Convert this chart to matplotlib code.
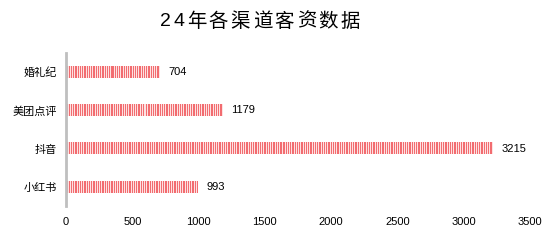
import matplotlib
matplotlib.use("Agg")
import matplotlib.pyplot as plt
from matplotlib.colors import to_rgba
import numpy as np

categories = ["婚礼纪", "美团点评", "抖音", "小红书"]
values = [704, 1179, 3215, 993]
xticks = [0, 500, 1000, 1500, 2000, 2500, 3000, 3500]
title = "24年各渠道客资数据"

plt.rcParams['font.family'] = ['Liberation Sans', 'Noto Sans CJK SC', 'DejaVu Sans']

fig = plt.figure(figsize=(5.49, 2.40), dpi=100)
ax = fig.add_axes([66/549, 1-206/240, (530-66)/549, (206-52.75)/240])

y = list(range(len(categories)))
bar_h = 0.31
light = '#fde2e2'
red = '#f26c70'
bars = ax.barh(y, values, height=bar_h, color=light, linewidth=0, zorder=2)
ax.set_ylim(len(categories)-0.5, -0.5)
ax.set_xlim(0, 3500)
ax.set_yticks(y)
ax.set_yticklabels(categories, fontsize=8)
ax.set_xticks(xticks)
ax.set_xticklabels([str(t) for t in xticks], fontsize=8)
ax.tick_params(axis='both', length=0)
ax.tick_params(axis='x', pad=8)
ax.tick_params(axis='y', pad=6.5)
for s in ['top', 'right', 'bottom']:
    ax.spines[s].set_visible(False)
ax.spines['left'].set_color('#bfbfbf')
ax.spines['left'].set_linewidth(2)
ax.spines['left'].set_zorder(5)

for yi, v in zip(y, values):
    ax.annotate(str(v), (v, yi), xytext=(6.5, 0), textcoords='offset points',
                va='center', ha='left', fontsize=8)

fig.canvas.draw()
renderer = fig.canvas.get_renderer()

# vertical stripe texture inside each bar
period = 2.25
cr, cl = np.array(to_rgba(red)), np.array(to_rgba(light))
for b in bars:
    x0, x1 = b.get_x(), b.get_x() + b.get_width()
    y0, y1 = b.get_y(), b.get_y() + b.get_height()
    px0 = ax.transData.transform((x0, 0))[0]
    px1 = ax.transData.transform((x1, 0))[0]
    n = max(1, int(round(px1 - px0)))
    cols = np.arange(n)
    on = ((cols / period) % 1.0) < 0.5
    tex = np.where(on[:, None], cr, cl)[None, :, :]
    ax.imshow(tex, extent=(x0, x1, y1, y0), aspect='auto',
              interpolation='nearest', zorder=3, clip_path=b)
ax.set_xlim(0, 3500)
ax.set_ylim(len(categories)-0.5, -0.5)

# title with letter spacing
gap = 2.5
texts, widths = [], []
for ch in title:
    t = fig.text(0, 1-22/240, ch, ha='left', va='center', fontsize=14)
    bb = t.get_window_extent(renderer)
    texts.append(t)
    widths.append(bb.width)
total = sum(widths) + gap * (len(title) - 1)
x = 260 - total / 2
for t, w in zip(texts, widths):
    t.set_x(x / 549)
    x += w + gap
fig.savefig("out.png", dpi=100)
